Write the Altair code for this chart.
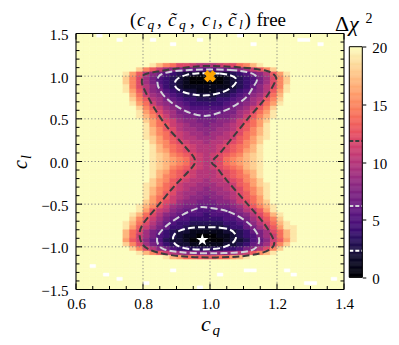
import altair as alt
import pandas as pd

FONT = "'Liberation Serif', 'DejaVu Serif', serif"

# ---------------- data ----------------
# Δχ² grid: 40 columns in c_q (0.60 .. 1.40, step 0.02), 60 rows in c_l (1.50 .. -1.50, step 0.05)
# one character per cell: 0-9, A=10 ... J=19, K=20 (>=20, saturated)
cq_start, cq_step, n_cols = 0.60, 0.02, 40
cl_top, cl_step, n_rows = 1.50, 0.05, 60

K = "K"
dchi2_rows = [
    K * 40, K * 40, K * 40, K * 40, K * 40, K * 40, K * 40,
    K * 11 + "JHFECCBA" + "A" + "ABCCEFHJ" + K * 12,
    K * 9 + "IFDB987665" + "5" + "566789BDFI" + K * 10,
    K * 7 + "JGDA87543221" + "1" + "12234578ADGJ" + K * 8,
    K * 7 + "IFC975432100" + "0" + "001234579CFI" + K * 8,
    K * 7 + "IFC975432100" + "0" + "001234579CFI" + K * 8,
    K * 7 + "JFCA86432111" + "1" + "11123468ACFJ" + K * 8,
    K * 7 + "JGDA87543221" + "1" + "12234578ADGJ" + K * 8,
    K * 8 + "HEB98654332" + "2" + "23345689BEH" + K * 9,
    K * 8 + "IFDA9765443" + "3" + "3445679ADFI" + K * 9,
    K * 8 + "JGEB9876544" + "4" + "4456789BEGJ" + K * 9,
    K * 9 + "IFDB987655" + "5" + "556789BDFI" + K * 10,
    K * 9 + "JGECA97766" + "6" + "66779ACEGJ" + K * 10,
    K * 9 + "JHFDB98776" + "6" + "67789BDFHJ" + K * 10,
    K * 10 + "IGECB9887" + "7" + "7889BCEGI" + K * 11,
    K * 10 + "JGEDBA988" + "7" + "889ABDEGJ" + K * 11,
    K * 10 + "JHFDCA998" + "8" + "899ACDFHJ" + K * 11,
    K * 10 + "JHFECBA99" + "8" + "99ABCEFHJ" + K * 11,
    K * 10 + "JIGEDBAA9" + "9" + "9AABDEGIJ" + K * 11,
    K * 11 + "IGFDCBAA" + "9" + "AABCDFGI" + K * 12,
    K * 11 + "JHFEDCBA" + "A" + "ABCDEFHJ" + K * 12,
    K * 11 + "JHGEDCBA" + "A" + "ABCDEGHJ" + K * 12,
    K * 11 + "JIHFEDCB" + "A" + "BCDEFHIJ" + K * 12,
    K * 11 + "JIHGFECB" + "A" + "BCEFGHIJ" + K * 12,
    K * 11 + "JIHGFECB" + "A" + "BCEFGHIJ" + K * 12,
    K * 11 + "JIHFEDCB" + "A" + "BCDEFHIJ" + K * 12,
    K * 11 + "JHGEDCBA" + "A" + "ABCDEGHJ" + K * 12,
    K * 11 + "JHFEDCBA" + "A" + "ABCDEFHJ" + K * 12,
    K * 11 + "IGFDCBAA" + "9" + "AABCDFGI" + K * 12,
    K * 10 + "JIGEDBAA9" + "9" + "9AABDEGIJ" + K * 11,
    K * 10 + "JHFECBA99" + "8" + "99ABCEFHJ" + K * 11,
    K * 10 + "JHFDCA998" + "8" + "899ACDFHJ" + K * 11,
    K * 10 + "JGEDBA988" + "7" + "889ABDEGJ" + K * 11,
    K * 10 + "IGECB9887" + "7" + "7889BCEGI" + K * 11,
    K * 9 + "JHFDB98776" + "6" + "67789BDFHJ" + K * 10,
    K * 9 + "JGDBA87665" + "5" + "56678ABDGJ" + K * 10,
    K * 8 + "JHECA876555" + "4" + "555678ACEHJ" + K * 9,
    K * 8 + "IFDB9765544" + "4" + "4455679BDFI" + K * 9,
    K * 7 + "JHECA8654433" + "3" + "3344568ACEHJ" + K * 8,
    K * 7 + "JGDB97644322" + "2" + "22344679BDGJJ" + K * 7,
    K * 7 + "HEC976432211" + "1" + "112234679CEHJ" + K * 7,
    K * 7 + "HEB975432110" + "0" + "011234579BEHJ" + K * 7,
    K * 7 + "GDB865322100" + "0" + "001223568BDGJ" + K * 7,
    K * 7 + "IFC976432211" + "1" + "112234679CFI" + K * 8,
    K * 8 + "IFCA8754433" + "3" + "3344578ACFI" + K * 9,
    K * 9 + "JHFDBA9887" + "7" + "7889ABDFHJ" + K * 10,
    K * 13 + "JHGEED" + "D" + "DEEGHJ" + K * 14,
    K * 40, K * 40, K * 40, K * 40, K * 40, K * 40, K * 40,
]

# cells without data (white holes), given by cell centre (c_q, c_l)
missing_cq = [0.67, 0.73, 0.83, 0.89, 0.97, 1.09, 1.13, 1.27, 1.29, 1.33,
              0.65, 0.69, 0.73, 0.81, 0.89, 0.97, 1.03, 1.11, 1.13, 1.23, 1.25, 1.29, 1.31, 1.37]
missing_cl = [1.475, 1.425, 1.425, 1.375, 1.425, 1.475, 1.375, 1.425, 1.425, 1.375,
              -1.225, -1.325, -1.375, -1.425, -1.275, -1.475, -1.325, -1.275, -1.275, -1.275,
              -1.325, -1.425, -1.425, -1.375]

# contour lines (Δχ² = 2.30, 6.18, 11.83)
white_top_cq = [0.99, 1.03, 1.06, 1.077, 1.078, 1.065, 1.035, 0.99, 0.95, 0.92, 0.90, 0.895, 0.905, 0.93, 0.96]
white_top_cl = [1.035, 1.03, 1.01, 0.975, 0.93, 0.87, 0.81, 0.775, 0.785, 0.815, 0.86, 0.92, 0.975, 1.015, 1.032]
white_bot_cq = [0.98, 1.03, 1.06, 1.075, 1.077, 1.065, 1.03, 0.98, 0.93, 0.90, 0.89, 0.893, 0.91, 0.94]
white_bot_cl = [-0.77, -0.775, -0.80, -0.85, -0.90, -0.96, -1.015, -1.03, -1.02, -0.98, -0.92, -0.86, -0.81, -0.78]
light_top_cq = [0.99, 1.06, 1.11, 1.135, 1.14, 1.13, 1.11, 1.08, 1.04, 0.99, 0.94, 0.90, 0.87, 0.85, 0.843, 0.85, 0.88, 0.93]
light_top_cl = [1.078, 1.072, 1.05, 1.01, 0.95, 0.88, 0.76, 0.67, 0.59, 0.535, 0.57, 0.65, 0.74, 0.84, 0.93, 1.01, 1.05, 1.07]
light_bot_cq = [0.985, 1.055, 1.115, 1.145, 1.14, 1.105, 1.015, 0.915, 0.857, 0.842, 0.867, 0.917, 0.962]
light_bot_cl = [-0.537, -0.588, -0.724, -0.88, -0.998, -1.057, -1.075, -1.064, -1.017, -0.90, -0.764, -0.627, -0.549]
dark_cq = [1.0, 1.1, 1.17, 1.195, 1.195, 1.165, 1.115, 1.065, 1.03, 1.012, 1.005, 1.008, 1.02, 1.05, 1.11,
           1.16, 1.19, 1.185, 1.15, 1.08, 0.97, 0.88, 0.822, 0.797, 0.79, 0.802, 0.842, 0.891, 0.935, 0.952,
           0.955, 0.95, 0.916, 0.871, 0.83, 0.80, 0.797, 0.805, 0.852, 0.922]
dark_cl = [1.12, 1.10, 1.06, 1.0, 0.94, 0.74, 0.51, 0.27, 0.10, 0.03, 0.0, -0.03, -0.07, -0.22, -0.49,
           -0.72, -0.92, -1.01, -1.075, -1.115, -1.123, -1.095, -1.037, -0.96, -0.84, -0.72, -0.53, -0.30, -0.12, -0.04,
           0.0, 0.06, 0.215, 0.41, 0.65, 0.88, 0.96, 1.02, 1.06, 1.10]

# best-fit points
bf_orange_cq, bf_orange_cl = [1.0], [1.0]
bf_white_cq, bf_white_cl = [0.977], [-0.92]

# axes
x_domain = [0.6, 1.4]
y_domain = [-1.5, 1.5]
x_major = [0.6, 0.8, 1.0, 1.2, 1.4]
x_minor = [0.65, 0.7, 0.75, 0.85, 0.9, 0.95, 1.05, 1.1, 1.15, 1.25, 1.3, 1.35]
y_major = [-1.5, -1.0, -0.5, 0.0, 0.5, 1.0, 1.5]
y_minor = [-1.4, -1.3, -1.2, -1.1, -0.9, -0.8, -0.7, -0.6, -0.4, -0.3, -0.2, -0.1,
           0.1, 0.2, 0.3, 0.4, 0.6, 0.7, 0.8, 0.9, 1.1, 1.2, 1.3, 1.4]
x_grid = [0.8, 1.0, 1.2]
y_grid = [-1.0, -0.5, 0.0, 0.5, 1.0]
cb_domain = [0, 20]
cb_ticks = [0, 5, 10, 15, 20]
levels = [2.30, 6.18, 11.83]

# ---------------- build tables ----------------
assert len(dchi2_rows) == n_rows and all(len(r) == n_cols for r in dchi2_rows)
miss = {(round((q - cq_start) / cq_step - 0.5), round((cl_top - l) / cl_step - 0.5))
        for q, l in zip(missing_cq, missing_cl)}
recs = []
for r, row in enumerate(dchi2_rows):
    for i, ch in enumerate(row):
        if (i, r) in miss:
            continue
        recs.append({"x0": round(cq_start + i * cq_step, 4), "x1": round(cq_start + (i + 1) * cq_step, 4),
                     "y1": round(cl_top - r * cl_step, 4), "y0": round(cl_top - (r + 1) * cl_step, 4),
                     "v": int(ch, 21)})
heat_df = pd.DataFrame(recs)


def loops_df(loops):
    out = []
    for k, (qs, ls) in enumerate(loops):
        for o, (q, l) in enumerate(zip(qs, ls)):
            out.append({"cq": q, "cl": l, "k": k, "o": o})
    return pd.DataFrame(out)


W, H = 268, 256
xs = alt.Scale(domain=x_domain, nice=False, zero=False)
ys = alt.Scale(domain=y_domain, nice=False, zero=False)
cscale = alt.Scale(scheme="magma", domain=cb_domain, clamp=True)

heat = alt.Chart(heat_df).mark_rect(strokeWidth=0.6, clip=True).encode(
    x=alt.X("x0:Q", scale=xs, axis=alt.Axis(values=x_major, format=".1f", ticks=False, tickSize=0,
                                            domain=False, grid=False, labelFont=FONT, labelFontSize=15,
                                            labelColor="black", labelPadding=7, labelFlush=False,
                                            labelOverlap=False, title=None)),
    x2="x1:Q",
    y=alt.Y("y0:Q", scale=ys, axis=alt.Axis(values=y_major, format=".1f", ticks=False, tickSize=0,
                                            domain=False, grid=False, labelFont=FONT, labelFontSize=15,
                                            labelColor="black", labelPadding=8, labelOffset=1,
                                            labelOverlap=False, title=None)),
    y2="y1:Q",
    color=alt.Color("v:Q", scale=cscale, legend=None),
    stroke=alt.Stroke("v:Q", scale=cscale, legend=None),
)


def vrules(vals, **kw):
    return alt.Chart(pd.DataFrame({"v": vals})).mark_rule(**kw)


grid_x = vrules(x_grid, color="#808080", strokeWidth=0.9, strokeDash=[1.2, 2.2]).encode(
    x=alt.X("v:Q", scale=xs, axis=None))
grid_y = vrules(y_grid, color="#808080", strokeWidth=0.9, strokeDash=[1.2, 2.2]).encode(
    y=alt.Y("v:Q", scale=ys, axis=None))


def contour(loops, color):
    return alt.Chart(loops_df(loops)).mark_line(
        color=color, strokeWidth=2, strokeDash=[7, 3.2], interpolate="cardinal-closed"
    ).encode(x=alt.X("cq:Q", scale=xs, axis=None), y=alt.Y("cl:Q", scale=ys, axis=None),
             detail="k:N", order=alt.Order("o:Q"))


c_dark = contour([(dark_cq, dark_cl)], "#3c3c3c")
c_light = contour([(light_top_cq, light_top_cl), (light_bot_cq, light_bot_cl)], "#d2d2d8")
c_white = contour([(white_top_cq, white_top_cl), (white_bot_cq, white_bot_cl)], "#ffffff")

STAR = ("M0,-1L0.2245,-0.309L0.9511,-0.309L0.3633,0.118L0.5878,0.809L0,0.382"
        "L-0.5878,0.809L-0.3633,0.118L-0.9511,-0.309L-0.2245,-0.309Z")
star_o = alt.Chart(pd.DataFrame({"cq": bf_orange_cq, "cl": bf_orange_cl})).mark_point(
    shape="cross", angle=45, filled=True, size=150, color="#ffa500", opacity=1).encode(
    x=alt.X("cq:Q", scale=xs, axis=None), y=alt.Y("cl:Q", scale=ys, axis=None))
star_w = alt.Chart(pd.DataFrame({"cq": bf_white_cq, "cl": bf_white_cl})).mark_point(
    shape=STAR, filled=True, size=170, color="#ffffff", opacity=1).encode(
    x=alt.X("cq:Q", scale=xs, axis=None), y=alt.Y("cl:Q", scale=ys, axis=None))

tick_layers = []
for vals, ln in ((x_major, 6), (x_minor, 3.5)):
    tick_layers.append(vrules(vals, color="black", strokeWidth=1).encode(
        x=alt.X("v:Q", scale=xs, axis=None), y=alt.value(H), y2=alt.value(H - ln)))
    tick_layers.append(vrules(vals, color="black", strokeWidth=1).encode(
        x=alt.X("v:Q", scale=xs, axis=None), y=alt.value(0), y2=alt.value(ln)))
for vals, ln in ((y_major, 6), (y_minor, 3.5)):
    tick_layers.append(vrules(vals, color="black", strokeWidth=1).encode(
        y=alt.Y("v:Q", scale=ys, axis=None), x=alt.value(0), x2=alt.value(ln)))
    tick_layers.append(vrules(vals, color="black", strokeWidth=1).encode(
        y=alt.Y("v:Q", scale=ys, axis=None), x=alt.value(W), x2=alt.value(W - ln)))

frame_x = vrules(x_domain, color="black", strokeWidth=1.1).encode(x=alt.X("v:Q", scale=xs, axis=None))
frame_y = vrules(y_domain, color="black", strokeWidth=1.1).encode(y=alt.Y("v:Q", scale=ys, axis=None))

one = pd.DataFrame({"_": [0]})


def label(s, x, y, size, italic=False, angle=0, align="left"):
    return alt.Chart(one).mark_text(
        text=s, font=FONT, fontSize=size, fontStyle="italic" if italic else "normal",
        align=align, baseline="alphabetic", angle=angle, color="black"
    ).encode(x=alt.value(x), y=alt.value(y))


TB, TS = -8.0, -4.5
texts = [
    label("(", 54, TB, 19),
    label("c", 61, TB, 19, True), label("q", 71.5, TS, 13.5, True), label(",", 81, TB, 19),
    label("c\u0303", 92, TB, 19, True), label("q", 103, TS, 13.5, True), label(",", 114, TB, 19),
    label("c", 126, TB, 19, True), label("l", 136.5, TS, 13.5, True), label(",", 142, TB, 19),
    label("c\u0303", 152, TB, 19, True), label("l", 163, TS, 13.5, True),
    label(")", 168.5, TB, 19), label("free", 180.5, TB, 19),
    # x title
    label("c", 125, 297.5, 22, True), label("q", 136.5, 301, 15, True),
    # y title
    label("c", -49, 135.5, 20, True, angle=270), label("l", -45.5, 125.5, 14, True, angle=270),
    # colour bar title
    label("\u0394", 259, -2.5, 22), label("\u03c7", 273, -2.5, 22, True), label("2", 289.5, -11, 14),
]

# ---------------- colour bar ----------------
CB_X = [273.3, 286.3]
CB_Y = [243.8, 13.2]
cb_lo = [round(0.1 * i, 2) for i in range(200)]
cb_df = pd.DataFrame({"lo": cb_lo, "hi": [round(v + 0.1, 2) for v in cb_lo],
                      "mid": [round(v + 0.05, 3) for v in cb_lo], "x0": 0, "x1": 1})
cbx = alt.Scale(domain=[0, 1], range=CB_X)
cby = alt.Scale(domain=cb_domain, range=CB_Y)

cb_rect = alt.Chart(cb_df).mark_rect(strokeWidth=0.5).encode(
    x=alt.X("x0:Q", scale=cbx, axis=None), x2="x1:Q",
    y=alt.Y("lo:Q", scale=cby, axis=alt.Axis(orient="right", offset=CB_X[1] - W, values=cb_ticks, format="d",
                                             domain=False, ticks=True, tickSize=3.5, tickColor="black",
                                             tickWidth=1, labelFont=FONT, labelFontSize=15,
                                             labelColor="black", labelPadding=6, labelOffset=1,
                                             labelOverlap=False, grid=False, title=None)),
    y2="hi:Q",
    color=alt.Color("mid:Q", scale=cscale, legend=None),
    stroke=alt.Stroke("mid:Q", scale=cscale, legend=None),
)
cb_lines = []
for lev, colr in zip(levels, ["#ffffff", "#d2d2d8", "#3c3c3c"]):
    cb_lines.append(alt.Chart(pd.DataFrame({"lev": [lev], "x0": [0], "x1": [1]})).mark_rule(
        color=colr, strokeWidth=2, strokeDash=[4, 2]).encode(
        y=alt.Y("lev:Q", scale=cby, axis=None), x=alt.X("x0:Q", scale=cbx, axis=None), x2="x1:Q"))
cb_frame = alt.Chart(pd.DataFrame({"x0": [0], "x1": [1], "y0": cb_domain[:1], "y1": cb_domain[1:]})).mark_rect(
    filled=False, color="black", strokeWidth=1).encode(
    x=alt.X("x0:Q", scale=cbx, axis=None), x2="x1:Q", y=alt.Y("y0:Q", scale=cby, axis=None), y2="y1:Q")

chart = alt.layer(
    heat, grid_x, grid_y, c_dark, c_light, c_white, star_o, star_w,
    *tick_layers, frame_x, frame_y, cb_rect, *cb_lines, cb_frame, *texts
).resolve_scale(x="independent", y="independent").properties(
    width=W, height=H,
    autosize=alt.AutoSizeParams(type="none"),
    padding={"left": 68, "top": 25.5, "right": 47, "bottom": 47.5},
).configure_view(stroke=None)

chart.save("out.html", embed_options={"renderer": "svg", "actions": False})
